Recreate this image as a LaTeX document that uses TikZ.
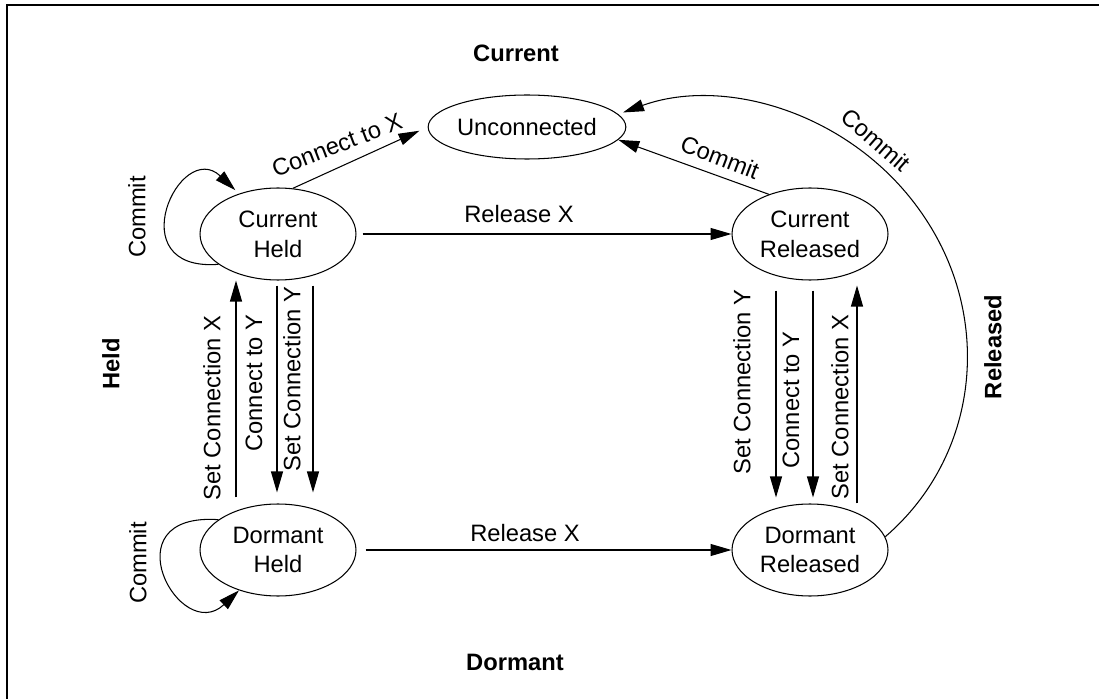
\documentclass[tikz,border=0pt]{standalone}
\usepackage{fontspec}
\setmainfont{Liberation Sans}
\usetikzlibrary{arrows.meta,shapes.geometric,calc}
\begin{document}
\begin{tikzpicture}[x=0.02cm,y=-0.02cm,
  font=\fontsize{13.5}{17}\selectfont,
  state/.style={ellipse,draw,line width=0.6pt,minimum width=3.12cm,minimum height=1.84cm,inner sep=0pt,align=center},
  trans/.style={-{Triangle[length=0.42cm,width=0.24cm]},line width=0.6pt},
  lbl/.style={inner sep=0pt},
  vlbl/.style={inner sep=0pt,rotate=90},
  region/.style={inner sep=0pt,font=\fontsize{13.5}{17}\selectfont\bfseries}]
\useasboundingbox (0,0) rectangle (1099,699);

% frame
\draw[line width=0.8pt] (1099,5) -- (7,5) -- (7,699);

% region headings
\node[region] (hcur) at (516,53) {Current};
\node[region] (hdor) at (515,662) {Dormant};
\node[region,rotate=90] (hheld) at (111,364) {Held};
\node[region,rotate=90] (hrel) at (993,347) {Released};

% states
\node[state,minimum width=3.38cm,minimum height=1.28cm] (U) at (527,127) {Unconnected};
\node[state] (CH) at (278,234) {Current\\Held};
\node[state] (CR) at (810,234) {Current\\Released};
\node[state] (DH) at (278,550) {Dormant\\Held};
\node[state] (DR) at (810,550) {Dormant\\Released};

% connect to X
\draw[trans,shorten >=0.18cm] (CH.72) -- (U.west);
\node[lbl,rotate=21] (lcx) at (337,145) {Connect to X};

% release X
\draw[trans,shorten <=0.12cm] (CH.east) -- (CR.west);
\node[lbl] (lrx1) at (519,214) {Release X};
\draw[trans,shorten <=0.18cm] (DH.east) -- (DR.west);
\node[lbl] (lrx2) at (525,533) {Release X};

% commit from current released
\draw[trans] (CR.136) -- (U.-8);
\node[lbl,rotate=-21] (lc1) at (720,157) {Commit};

% commit from dormant released
\draw[trans,shorten >=0.1cm] (DR.10) .. controls (979,456) and (993,320) .. (925,218)
  .. controls (857,115) and (727,75) .. (U.8);
\node[lbl,rotate=-41] (lc2) at (876,140) {Commit};

% self loops
\draw[trans,shorten >=0.1cm] (CH.207) .. controls (118,272) and (180,138) .. (CH.134);
\node[vlbl] (lc3) at (137,217) {Commit};
\draw[trans] (DH.153) .. controls (108,512) and (180,646) .. (DH.226);
\node[vlbl] (lc4) at (138,563) {Commit};

% held column
\draw[trans,shorten <=0.12cm] ($(DH.north)+(-42,0)$) -- ($(CH.south)+(-42,0)$);
\draw[trans,shorten <=0.1cm,shorten >=0.22cm] ($(CH.south)+(-1,0)$) -- ($(DH.north)+(-1,0)$);
\draw[trans,shorten <=0.1cm,shorten >=0.22cm] ($(CH.south)+(35,0)$) -- ($(DH.north)+(35,0)$);
\node[vlbl] (lh1) at (212,408) {Set Connection X};
\node[vlbl] (lh2) at (254,383) {Connect to Y};
\node[vlbl] (lh3) at (292,379) {Set Connection Y};

% released column
\draw[trans,shorten <=0.2cm,shorten >=0.12cm] ($(CR.south)+(-34,0)$) -- ($(DR.north)+(-34,0)$);
\draw[trans,shorten <=0.2cm,shorten >=0.12cm] ($(CR.south)+(3,0)$) -- ($(DR.north)+(3,0)$);
\draw[trans,shorten >=0.1cm] ($(DR.north)+(47,0)$) -- ($(CR.south)+(47,0)$);
\node[vlbl] (lr1) at (742,382) {Set Connection Y};
\node[vlbl] (lr2) at (791,400) {Connect to Y};
\node[vlbl] (lr3) at (840,407) {Set Connection X};
\end{tikzpicture}
\end{document}
